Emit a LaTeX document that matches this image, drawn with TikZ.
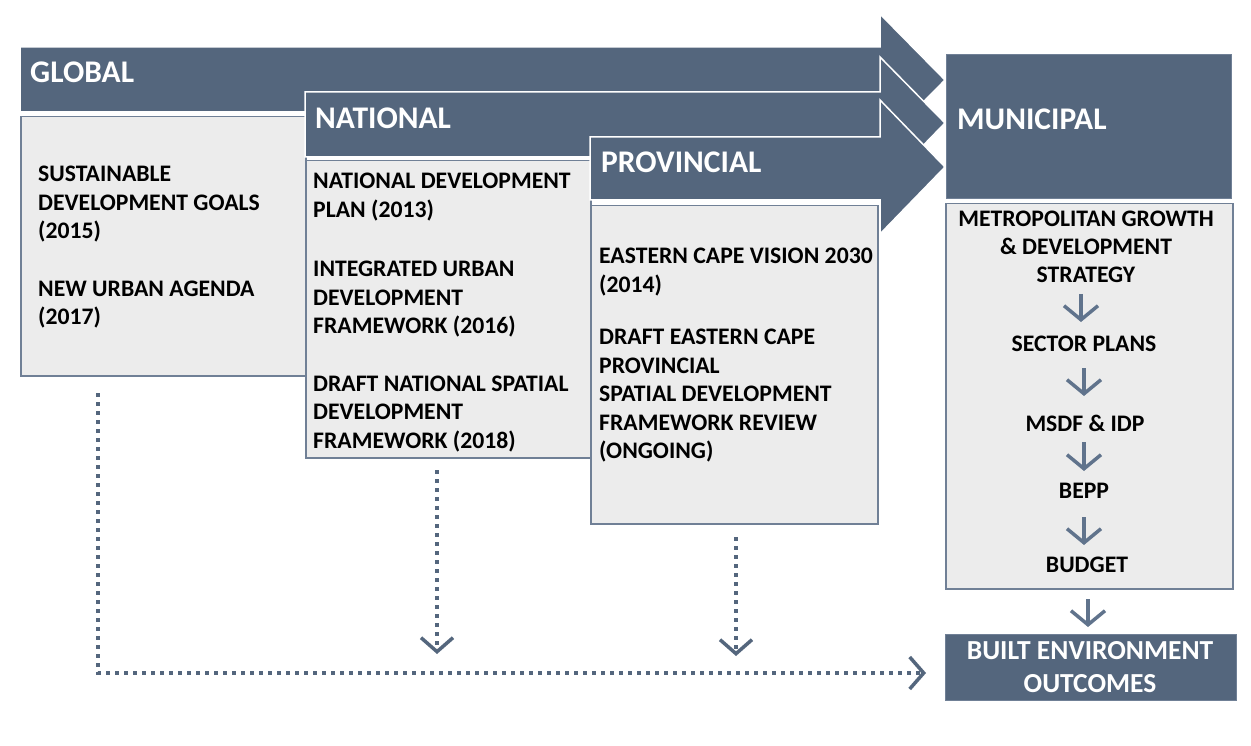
\documentclass[tikz,border=0pt]{standalone}
\usepackage{fontspec}
\setmainfont{Carlito}
\usetikzlibrary{arrows.meta}
\definecolor{slate}{RGB}{84,102,125}
\definecolor{boxfill}{RGB}{236,236,236}
\definecolor{boxline}{RGB}{112,128,150}
\definecolor{arrcol}{RGB}{96,115,140}
\begin{document}
\begin{tikzpicture}[x=1pt,y=-1pt,
  band/.style={fill=slate,draw=white,line width=1.5pt,line join=miter},
  greybox/.style={fill=boxfill,draw=boxline,line width=1.5pt,anchor=north west,inner sep=0pt},
  darkbox/.style={fill=slate,draw=boxline,line width=1pt,anchor=north west,inner sep=0pt},
  hdr/.style={text=white,font=\fontsize{31.5}{36}\selectfont\bfseries,inner sep=0pt,anchor=base west},
  body/.style={text=black,font=\fontsize{23.7}{28.5}\selectfont\bfseries,inner sep=0pt,align=left,anchor=north west},
  mtext/.style={text=black,font=\fontsize{23.7}{28}\selectfont\bfseries,inner sep=0pt,align=center,anchor=north},
  marr/.style={draw=arrcol,line width=3.5pt,-{Straight Barb[length=14pt,width=34pt,line width=3.5pt]}},
  dotarr/.style={draw=slate,line width=3.5pt,dash pattern=on 3.5pt off 5.5pt,-{Straight Barb[length=14pt,width=32pt,line width=3.5pt]}}
]
\useasboundingbox (0,0) rectangle (1251,746);
\fill[white] (0,0) rectangle (1251,746);

% GLOBAL band and box
\filldraw[band] (20,47) -- (880,47) -- (880,14) -- (945,80) -- (880,146) -- (880,112) -- (20,112) -- cycle;
\node[greybox,minimum width=285pt,minimum height=259pt] (globalbox) at (20,116) {};
\node[hdr] (globalhdr) at (30,83) {GLOBAL};
\node[body] (globaltxt) at (38,166) {SUSTAINABLE\\DEVELOPMENT GOALS\\(2015)\\[29pt]NEW URBAN AGENDA\\(2017)};

% NATIONAL band and box
\filldraw[band] (305,92) -- (880,92) -- (880,57) -- (945,123) -- (880,190) -- (880,157) -- (305,157) -- cycle;
\node[greybox,minimum width=285pt,minimum height=297pt] (natbox) at (305,160) {};
\node[hdr] (nathdr) at (315,129) {NATIONAL};
\node[body] (nattxt) at (313,173) {NATIONAL DEVELOPMENT\\PLAN (2013)\\[31pt]INTEGRATED URBAN\\DEVELOPMENT\\FRAMEWORK (2016)\\[29pt]DRAFT NATIONAL SPATIAL\\DEVELOPMENT\\FRAMEWORK (2018)};

% PROVINCIAL band and box
\filldraw[band] (590,137) -- (880,137) -- (880,100) -- (945,167) -- (880,234) -- (880,200) -- (590,200) -- cycle;
\node[greybox,minimum width=287pt,minimum height=318pt] (provbox) at (590,205) {};
\node[hdr] (provhdr) at (601,173) {PROVINCIAL};
\node[body] (provtxt) at (599,248) {EASTERN CAPE VISION 2030\\(2014)\\[24pt]DRAFT EASTERN CAPE\\PROVINCIAL\\SPATIAL DEVELOPMENT\\FRAMEWORK REVIEW\\(ONGOING)};

% MUNICIPAL
\node[darkbox,minimum width=285pt,minimum height=144pt] (munbox) at (946,54) {};
\node[hdr] (munhdr) at (957,130) {MUNICIPAL};
\node[greybox,minimum width=287pt,minimum height=385pt] (munlist) at (945,203) {};
\node[mtext] (mgds) at (1086,211) {METROPOLITAN GROWTH\\\& DEVELOPMENT\\STRATEGY};
\node[mtext] (sector) at (1084,336) {SECTOR PLANS};
\node[mtext] (msdf) at (1085,415) {MSDF \& IDP};
\node[mtext] (bepp) at (1084,483) {BEPP};
\node[mtext] (budget) at (1087,557) {BUDGET};

% Built environment outcomes
\node[darkbox,minimum width=291pt,minimum height=66pt] (beo) at (945,634) {};
\node[text=white,font=\fontsize{27.5}{33.5}\selectfont\bfseries,align=center,inner sep=0pt] (beotxt) at (1090,667) {BUILT ENVIRONMENT\\OUTCOMES};

% municipal chain arrows
\draw[marr] ([xshift=-5pt]mgds.south |- 0,294) -- ([xshift=-5pt]mgds.south |- 0,322);
\draw[marr] (sector.south |- 0,368) -- (sector.south |- 0,396);
\draw[marr] ([xshift=-1pt]msdf.south |- 0,442) -- ([xshift=-1pt]msdf.south |- 0,471);
\draw[marr] (bepp.south |- 0,517) -- (bepp.south |- 0,545);
\draw[marr] ([xshift=1pt]budget.south |- 0,599) -- ([xshift=1pt]budget.south |- 0,627);

% dotted connectors
\coordinate (gstart) at (98,393);
\coordinate (gend) at (926,673);
\draw[dotarr] (gstart) |- (gend);
\coordinate (nstart) at (437,470);
\coordinate (nend) at (437,654);
\draw[dotarr] (nstart) -- (nend);
\coordinate (pstart) at (736,537);
\coordinate (pend) at (736,656);
\draw[dotarr] (pstart) -- (pend);
\end{tikzpicture}
\end{document}
